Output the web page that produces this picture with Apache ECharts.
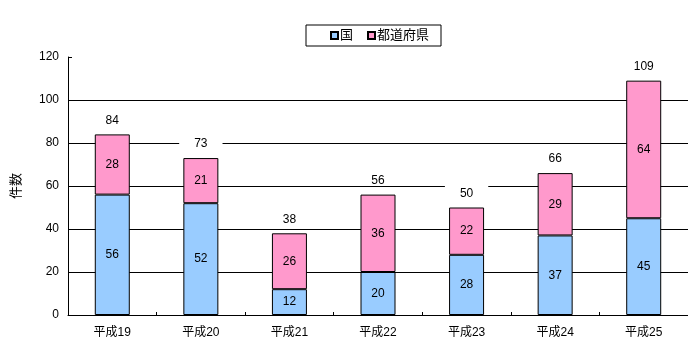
<!DOCTYPE html>
<html>
<head>
<meta charset="utf-8">
<script src="https://cdn.jsdelivr.net/npm/echarts@6/dist/echarts.min.js"></script>
<style>
  html, body { margin: 0; padding: 0; background: #fff; }
</style>
</head>
<body>
<div id="myChart" style="width: 688px; height: 352px;"></div>
<script>
// 年度
var categories = ["平成19", "平成20", "平成21", "平成22", "平成23", "平成24", "平成25"];
// 国
var kuni = [56, 52, 12, 20, 28, 37, 45];
// 都道府県
var todofuken = [28, 21, 26, 36, 22, 29, 64];
// 合計
var totals = [84, 73, 38, 56, 50, 66, 109];
var yTicks = [0, 20, 40, 60, 80, 100, 120];

var font = "'Liberation Sans', 'Noto Sans CJK JP', sans-serif";

var myChart = echarts.init(document.getElementById("myChart"));
var options = {
  animation: false,
  textStyle: { fontFamily: font, color: "#000" },
  legend: {
    data: ["国", "都道府県"],
    icon: "rect",
    left: 306,
    top: 25,
    itemWidth: 7,
    itemHeight: 7,
    itemGap: 14,
    padding: [4, 12, 4, 24],
    borderColor: "#000",
    borderWidth: 1,
    backgroundColor: "#fff",
    textStyle: { fontSize: 13, color: "#000", fontFamily: font, padding: [0, 0, 0, -3] },
  },
  grid: { left: 68, right: 0, top: 57, bottom: 37 },
  xAxis: {
    type: "category",
    data: categories,
    axisLine: { lineStyle: { color: "#000", width: 1 } },
    axisTick: { show: true, inside: true, length: 3, lineStyle: { color: "#000" } },
    axisLabel: { color: "#000", fontSize: 12, margin: 12, fontFamily: font },
  },
  yAxis: {
    type: "value",
    min: yTicks[0],
    max: yTicks[yTicks.length - 1],
    interval: 20,
    name: "件数",
    nameLocation: "middle",
    nameGap: 45,
    nameTextStyle: { fontSize: 13, color: "#000", fontFamily: font },
    axisLine: { show: true, lineStyle: { color: "#000", width: 1 } },
    axisTick: { show: true, inside: true, length: 4, lineStyle: { color: "#000" } },
    axisLabel: { color: "#000", fontSize: 12, margin: 9, fontFamily: font },
    splitLine: {
      show: true,
      lineStyle: {
        color: ["#000", "#000", "#000", "#000", "#000", "#000", "rgba(0,0,0,0)"],
        width: 1,
      },
    },
  },
  series: [
    {
      name: "国",
      type: "bar",
      stack: "total",
      barWidth: 35,
      data: kuni,
      itemStyle: { color: "#99CCFF", borderColor: "#000", borderWidth: 1 },
      label: { show: true, position: "inside", color: "#000", fontSize: 12, fontFamily: font },
    },
    {
      name: "都道府県",
      type: "bar",
      stack: "total",
      barWidth: 35,
      data: todofuken,
      itemStyle: { color: "#FF99CC", borderColor: "#000", borderWidth: 1 },
      label: { show: true, position: "inside", color: "#000", fontSize: 12, fontFamily: font },
    },
    {
      name: "合計",
      type: "bar",
      stack: "total",
      barWidth: 35,
      data: totals.map(function () { return 0; }),
      itemStyle: { color: "rgba(0,0,0,0)", borderWidth: 0 },
      label: {
        show: true,
        position: "top",
        distance: 9,
        color: "#000",
        fontSize: 12,
        lineHeight: 10,
        fontFamily: font,
        backgroundColor: "#fff",
        padding: [4, 15, 0, 15],
        formatter: function (p) { return totals[p.dataIndex]; },
      },
    },
  ],
};
myChart.setOption(options, true);
</script>
</body>
</html>
